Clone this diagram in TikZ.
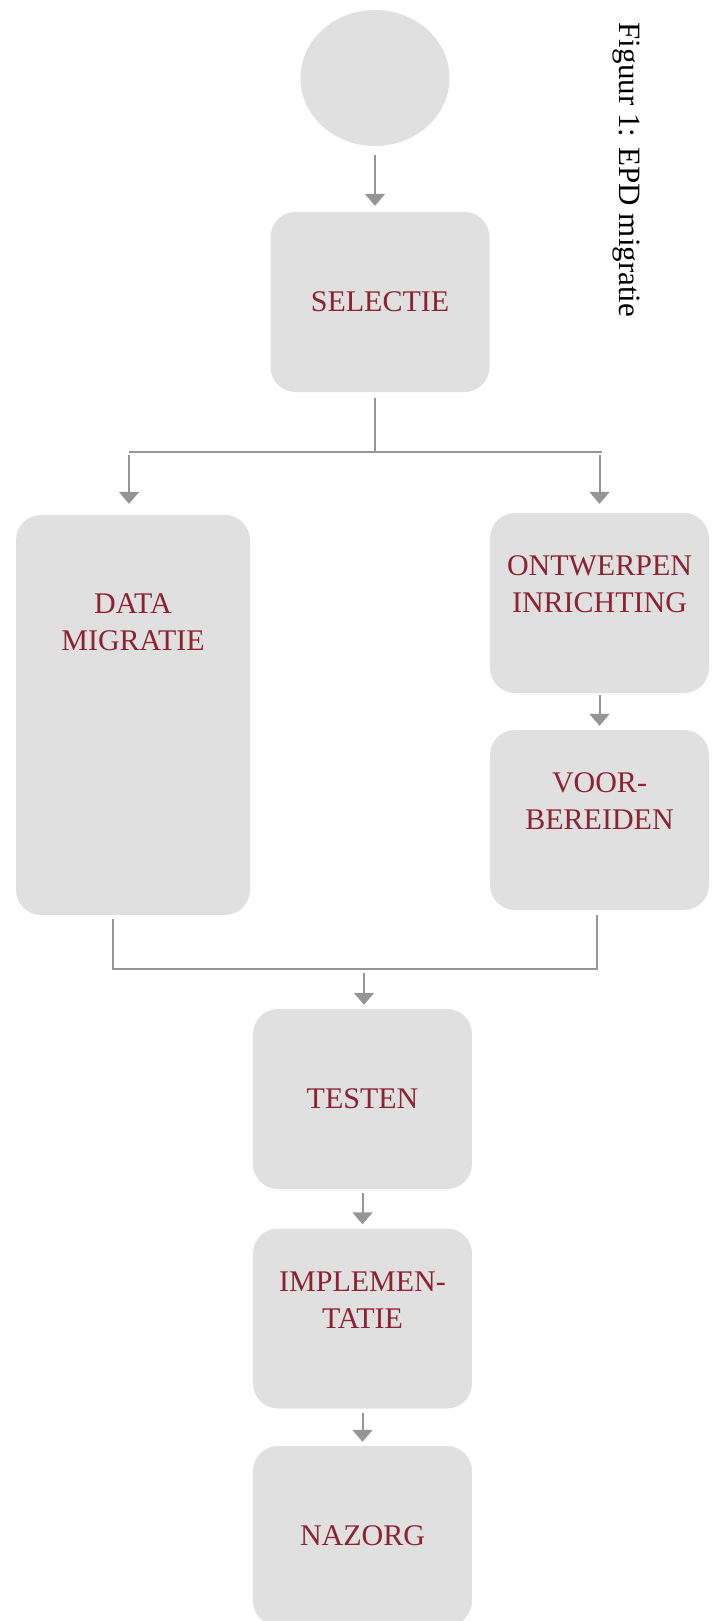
\documentclass[tikz,border=0pt]{standalone}
\usepackage{fontspec}
\setmainfont{Liberation Serif}
\usepackage{tikz}
\usetikzlibrary{arrows.meta}
\usetikzlibrary{shapes.geometric}
\usepackage{xcolor}
\definecolor{boxgray}{HTML}{E0E0E0}
\definecolor{linegray}{HTML}{959595}
\definecolor{labelred}{HTML}{8C2232}

\begin{document}
\begin{tikzpicture}[x=1pt,y=-1pt,
 stap/.style={rectangle,rounded corners=25pt,fill=boxgray,text=labelred,align=center,
   minimum width=219pt,minimum height=180pt,inner sep=0pt,font=\fontsize{30}{37}\selectfont},
 pijl/.style={line width=2pt,draw=linegray,-{Triangle[width=20pt,length=12pt]}},
 lijn/.style={line width=2pt,draw=linegray}]
 \useasboundingbox (0,0) rectangle (718,1621);

 \node[ellipse,fill=boxgray,minimum width=149pt,minimum height=136pt,inner sep=0pt] (start) at (375,78) {};
 \node[stap] (sel) at (380,302) {SELECTIE};
 \node[stap,minimum width=234pt,minimum height=400pt] (data) at (133,715) {DATA\\MIGRATIE\\~\\~\\~\\~\\~};
 \node[stap] (ontw) at (599.5,603) {ONTWERPEN\\INRICHTING\\~};
 \node[stap] (voor) at (599.5,820) {VOOR-\\BEREIDEN\\~};
 \node[stap] (test) at (362.5,1099) {TESTEN};
 \node[stap] (impl) at (362.5,1318.5) {IMPLEMEN-\\TATIE\\~};
 \node[stap] (naz) at (362.5,1536) {NAZORG};
 \node[rotate=-90,font=\fontsize{31}{36}\selectfont] (titel) at (626,170) {Figuur 1: EPD migratie};

 \coordinate (split) at (375,452);
 \coordinate (splitL) at (129,452);
 \coordinate (splitR) at (602,452);
 \coordinate (joinL) at (113,969);
 \coordinate (join) at (364,969);
 \coordinate (joinR) at (597,969);

 \draw[pijl,shorten <=9pt,shorten >=6pt] (start.south) -- (start.south |- sel.north);
 \draw[lijn,shorten <=6pt] (split |- sel.south) -- (split);
 \draw[lijn] (splitL) -- (splitR);
 \draw[pijl,shorten <=3pt,shorten >=11pt] (splitL) -- (splitL |- data.north);
 \draw[pijl,shorten <=3pt,shorten >=9pt] (ontw.north |- split) -- (ontw.north);
 \draw[pijl,shorten <=2pt,shorten >=4pt] (ontw) -- (voor);
 \draw[lijn,shorten <=4pt,shorten >=5pt] (joinL |- data.south) -- (joinL) -- (joinR) -- (joinR |- voor.south);
 \draw[pijl,shorten <=4pt,shorten >=4pt] (join) -- (join |- test.north);
 \draw[pijl,shorten <=4pt,shorten >=4pt] (test) -- (impl);
 \draw[pijl,shorten <=4pt,shorten >=4pt] (impl) -- (naz);
\end{tikzpicture}
\end{document}
